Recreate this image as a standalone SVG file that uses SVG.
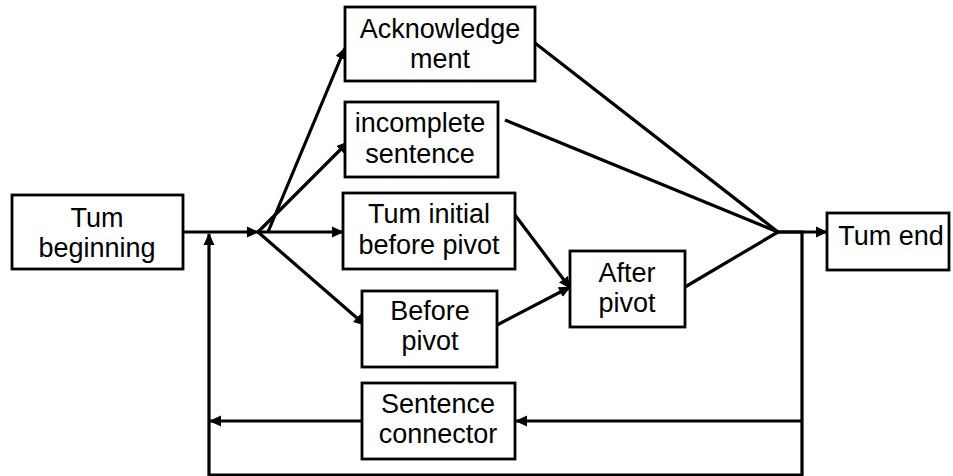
<svg xmlns="http://www.w3.org/2000/svg" width="953" height="476" viewBox="0 0 953 476">
<style>
.box{fill:#fff;stroke:#000;stroke-width:2.8}
.t{font-family:"Liberation Sans",Arial,sans-serif;font-size:27px;fill:#000;text-anchor:middle}
.c{fill:none;stroke:#000;stroke-width:3.2}
.a{marker-end:url(#ah)}
</style>
<defs>
<marker id="ah" markerUnits="userSpaceOnUse" markerWidth="12" markerHeight="12" viewBox="0 0 12 12" refX="11" refY="6" orient="auto">
<path d="M0,0.5 L12,6 L0,11.5 z" fill="#000"/>
</marker>
</defs>
<rect width="953" height="476" fill="#fff"/>
<g id="connectors">
<line class="c a" x1="183" y1="232" x2="258" y2="232"/>
<polyline class="c a" points="778,232 802,232 802,475 209,475 209,234"/>
<line class="c a" x1="802" y1="421" x2="516" y2="421"/>
<line class="c a" x1="362" y1="421" x2="210" y2="421"/>
<line class="c a" x1="258" y1="232" x2="343" y2="232"/>
<line class="c a" x1="268" y1="232" x2="345" y2="48"/>
<line class="c a" x1="258" y1="232" x2="348" y2="142"/>
<line class="c a" x1="258" y1="232" x2="365" y2="325"/>
<line class="c a" x1="515" y1="215" x2="570" y2="288"/>
<line class="c a" x1="497" y1="325" x2="570" y2="287"/>
<line class="c" x1="535" y1="43" x2="778" y2="232"/>
<line class="c" x1="505" y1="120" x2="778" y2="232"/>
<line class="c" x1="685" y1="287" x2="778" y2="232"/>
<line class="c a" x1="778" y1="232" x2="827" y2="232"/>
</g>
<g id="turn-beginning">
<rect class="box" x="12" y="195" width="171" height="74"/>
<text class="t" x="97" y="227">Tum</text>
<text class="t" x="97" y="257">beginning</text>
</g>
<g id="acknowledgement">
<rect class="box" x="345" y="7" width="190" height="74"/>
<text class="t" x="440" y="38">Acknowledge</text>
<text class="t" x="440" y="68">ment</text>
</g>
<g id="incomplete-sentence">
<rect class="box" x="345" y="102" width="153" height="75"/>
<text class="t" x="420" y="132">incomplete</text>
<text class="t" x="420" y="163">sentence</text>
</g>
<g id="turn-initial">
<rect class="box" x="343" y="193" width="172" height="76"/>
<text class="t" x="429" y="223">Tum initial</text>
<text class="t" x="429" y="254">before pivot</text>
</g>
<g id="before-pivot">
<rect class="box" x="362" y="291" width="135" height="76"/>
<text class="t" x="430" y="320">Before</text>
<text class="t" x="430" y="350">pivot</text>
</g>
<g id="after-pivot">
<rect class="box" x="570" y="251" width="115" height="76"/>
<text class="t" x="627" y="282">After</text>
<text class="t" x="627" y="312">pivot</text>
</g>
<g id="turn-end">
<rect class="box" x="827" y="213" width="122" height="57"/>
<text class="t" x="891" y="245">Tum end</text>
</g>
<g id="sentence-connector">
<rect class="box" x="362" y="383" width="153" height="76"/>
<text class="t" x="438" y="413">Sentence</text>
<text class="t" x="438" y="443">connector</text>
</g>
</svg>
